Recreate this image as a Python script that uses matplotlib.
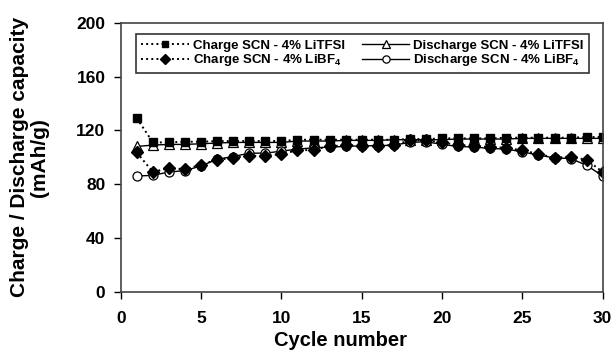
import numpy as np
import matplotlib
matplotlib.use("Agg")
import matplotlib.pyplot as plt

plt.rcParams['font.family'] = ['Liberation Sans', 'DejaVu Sans']
plt.rcParams['font.weight'] = 'bold'
plt.rcParams['mathtext.fontset'] = 'custom'
plt.rcParams['mathtext.rm'] = 'Liberation Sans:bold'
plt.rcParams['mathtext.bf'] = 'Liberation Sans:bold'

# data
cycles = np.arange(1, 31)
charge_tfsi = [129, 111, 111, 111.5, 111.5, 112, 112, 112, 112, 112,
               113, 113, 113, 113, 113, 113, 113, 113.5, 113.5, 114,
               114, 114, 114, 114.5, 114.5, 114.5, 114.5, 114.5, 115, 115]
discharge_tfsi = [108, 109, 109.5, 109.5, 110, 110.5, 111, 111, 111, 111,
                  112, 112, 112, 112.5, 112.5, 112.5, 113, 113, 113, 113,
                  113.5, 113.5, 113.5, 113.5, 114, 114, 114, 114, 114, 114]
charge_bf4 = [103.5, 89, 92, 91, 94.5, 98, 99.5, 101, 101, 102.5,
              105, 105.5, 108, 109, 108.5, 108.5, 109, 112.5, 112.5, 111,
              109, 108.5, 107.5, 107, 105, 102.5, 99.5, 100.5, 98, 89]
discharge_bf4 = [86, 86.5, 89, 90, 93.5, 98.5, 100.5, 103, 103, 104.5,
                 106, 107, 107.5, 108, 108.5, 108.5, 109, 111, 111.5, 109.5,
                 108, 107.5, 106.5, 106, 104, 101.5, 99.5, 99, 94, 86]

labels = ['Charge SCN - 4% LiTFSI', 'Charge SCN - 4% LiBF$_\\mathbf{4}$',
          'Discharge SCN - 4% LiTFSI', 'Discharge SCN - 4% LiBF$_\\mathbf{4}$']

fig = plt.figure(figsize=(6.14, 3.51), dpi=100)
ax = fig.add_axes([0.1966, 0.169, 0.7850, 0.7663])

l3, = ax.plot(cycles, discharge_tfsi, '-', color='black', lw=1.0,
              marker='^', ms=7, mfc='white', mec='black', mew=0.9)
l4, = ax.plot(cycles, discharge_bf4, '-', color='black', lw=1.0,
              marker='o', ms=6.5, mfc='white', mec='black', mew=0.9)
l1, = ax.plot(cycles, charge_tfsi, ':', color='black', lw=1.4,
              marker='s', ms=5.5, mfc='black', mec='black')
l2, = ax.plot(cycles, charge_bf4, ':', color='black', lw=1.4,
              marker='D', ms=6, mfc='black', mec='black')

ax.set_xlim(0, 30)
ax.set_ylim(0, 200)
ax.set_xticks(np.arange(0, 31, 5))
ax.set_yticks(np.arange(0, 201, 40))
ax.tick_params(direction='out', length=5, width=1, labelsize=12.5, colors='black')
ax.tick_params(axis='x', pad=9)
ax.tick_params(axis='y', pad=6)
for s in ax.spines.values():
    s.set_color('#444444')
    s.set_linewidth(1.2)

ax.set_xlabel('Cycle number', fontsize=14.5, fontweight='bold')
ax.xaxis.set_label_coords(0.457, -0.148)
ax.set_ylabel('Charge / Discharge capacity\n(mAh/g)', fontsize=15,
              fontweight='bold', labelpad=20, linespacing=1.05)

leg = ax.legend([l1, l2, l3, l4], labels, ncol=2, loc='upper left',
                bbox_to_anchor=(0.0317, 0.958, 0.94, 0.0), mode='expand',
                borderaxespad=0, fancybox=False, edgecolor='black',
                fontsize=9.5, handlelength=3.6, handletextpad=0.3,
                labelspacing=0.05, borderpad=0.4, columnspacing=1.0,
                markerscale=0.8)
leg.get_frame().set_linewidth(1.2)

fig.savefig('out.png', dpi=100)
